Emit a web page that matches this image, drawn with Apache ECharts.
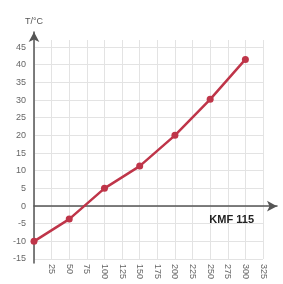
<!DOCTYPE html>
<html>
<head>
<meta charset="utf-8">
<script src="https://cdn.jsdelivr.net/npm/echarts@6/dist/echarts.min.js"></script>
<style>
  html, body { margin: 0; padding: 0; background: #fff; }
  .wrapper { width: 283px; height: 284px; }
</style>
</head>
<body>
<div class="wrapper"></div>
<script>
// data
var flow = [0, 50, 100, 150, 200, 250, 300];
var temp = [-10, -3.7, 5, 11.3, 20, 30.2, 41.5];
var modelName = 'KMF 115';

var myChart = echarts.init(document.getElementsByClassName('wrapper')[0]);

var points = flow.map(function (f, i) { return [f, temp[i]]; });

var option = {
  animation: false,
  title: {
    text: modelName,
    right: 24,
    top: 209,
    textStyle: { fontSize: 11, fontWeight: 'bold', color: '#222', fontFamily: 'Liberation Sans' }
  },
  grid: [
    // plot area
    { left: 34, right: 20, top: 40, bottom: 25 },
    // only for the arrow axes
    { left: 34, right: 6, top: 32, bottom: 21 }
  ],
  xAxis: [{
    gridIndex: 0,
    type: 'value',
    min: 0, max: 325, interval: 25,
    axisLine: { show: false },
    axisTick: { show: false },
    splitLine: { lineStyle: { color: '#e3e3e3', width: 1 } },
    axisLabel: {
      rotate: -90,
      margin: 5,
      fontSize: 9,
      color: '#666',
      fontFamily: 'Liberation Sans',
      formatter: function (v) { return v === 0 ? '' : v; }
    }
  }, {
    gridIndex: 1,
    type: 'value',
    min: 0, max: 345,
    axisLine: {
      onZero: true,
      symbol: ['none', 'arrow'],
      symbolSize: [8, 10],
      lineStyle: { color: '#555', width: 1.5 }
    },
    axisTick: { show: false },
    axisLabel: { show: false },
    splitLine: { show: false }
  }],
  yAxis: [{
    gridIndex: 0,
    type: 'value',
    min: -15, max: 47, interval: 5,
    axisLine: { show: false },
    axisTick: { show: false },
    splitLine: { showMaxLine: false, lineStyle: { color: '#e3e3e3', width: 1 } },
    axisLabel: {
      margin: 8,
      fontSize: 9,
      color: '#666',
      fontFamily: 'Liberation Sans',
      formatter: function (v) { return v % 5 === 0 ? v : ''; }
    }
  }, {
    gridIndex: 1,
    type: 'value',
    min: -16.1, max: 49.3,
    name: 'T/°C',
    nameLocation: 'end',
    nameGap: 6,
    nameTextStyle: { fontSize: 9, color: '#555', fontFamily: 'Liberation Sans', align: 'center' },
    axisLine: {
      onZero: false,
      symbol: ['none', 'arrow'],
      symbolSize: [8, 10],
      lineStyle: { color: '#555', width: 1.5 }
    },
    axisTick: { show: false },
    axisLabel: { show: false },
    splitLine: { show: false }
  }],
  series: [{
    type: 'line',
    xAxisIndex: 0,
    yAxisIndex: 0,
    data: points,
    symbol: 'circle',
    symbolSize: 7,
    itemStyle: { color: '#bf3549' },
    lineStyle: { color: '#bf3549', width: 2.5 },
    z: 5
  }]
};

myChart.setOption(option);
</script>
</body>
</html>
